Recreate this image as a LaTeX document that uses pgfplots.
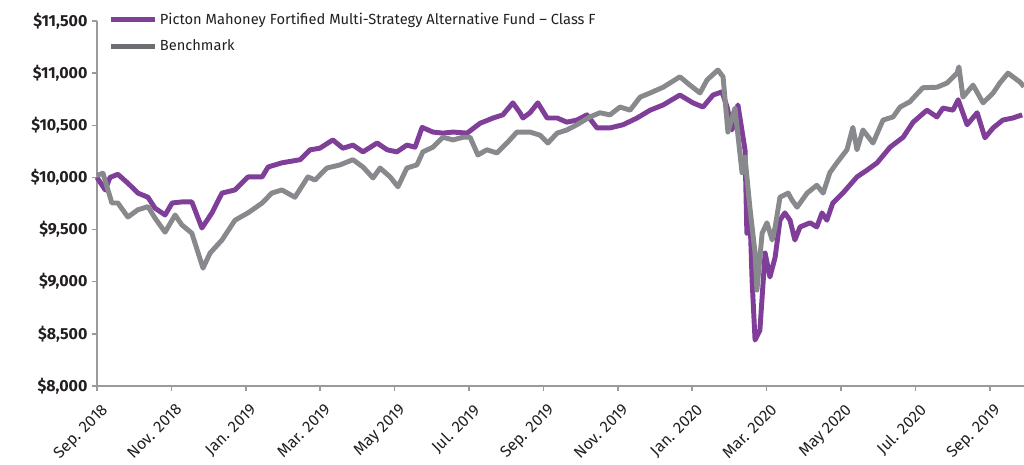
\documentclass[border=0pt]{standalone}
\usepackage{pgfplots}
\pgfplotsset{compat=1.18}
\usepackage{fontspec}
\setmainfont{Fira Sans}
\definecolor{fundpurple}{HTML}{7F3F98}
\definecolor{benchgrey}{HTML}{88898C}
\definecolor{legendgrey}{HTML}{6D6E71}
\definecolor{axisgrey}{HTML}{9A9A9A}
\definecolor{txt}{HTML}{231F20}
\begin{document}
\begin{tikzpicture}
\useasboundingbox (0pt,0pt) rectangle (768pt,348pt);
\begin{axis}[
  at={(72.75pt,58.5pt)}, anchor=south west,
  scale only axis, width=695.25pt, height=273.75pt,
  xmin=0, xmax=24.92, ymin=8000, ymax=11500,
  axis x line=bottom, axis y line=left,
  axis line style={-, axisgrey, line width=1.1pt},
  scaled x ticks=false, scaled y ticks=false,
  xtick={0,2,4,6,8,10,12,14,16,18,20,22,24},
  xticklabels={Sep. 2018,Nov. 2018,Jan. 2019,Mar. 2019,May 2019,Jul. 2019,Sep. 2019,Nov. 2019,Jan. 2020,Mar. 2020,May 2020,Jul. 2020,Sep. 2019},
  ytick={8000,8500,9000,9500,10000,10500,11000,11500},
  yticklabels={{\$8,000},{\$8,500},{\$9,000},{\$9,500},{\$10,000},{\$10,500},{\$11,000},{\$11,500}},
  tick style={axisgrey, line width=1.1pt},
  major tick length=4pt,
  xtick align=outside, ytick align=outside,
  x tick label style={xshift=2.5pt, yshift=-7pt, rotate=45, anchor=north east, font=\fontsize{12}{13}\selectfont, text=txt, inner sep=1pt},
  y tick label style={font=\fontsize{12}{13}\selectfont\bfseries, text=txt, inner sep=3pt},
  legend style={at={(0.012,1.03)}, anchor=north west, draw=none, fill=none,
    font=\fontsize{11}{12}\selectfont, text=txt, row sep=6pt, inner sep=0pt},
  legend cell align=left,
  legend image code/.code={\draw[#1, line width=3.6pt] (0pt,0pt) -- (33pt,0pt);},
  clip=false,
]
\addplot[fundpurple, line width=3.7pt, line join=round] coordinates {
(0.00,10000)(0.22,9880)(0.35,10000)(0.56,10030)(0.83,9945)(1.10,9850)(1.37,9810)(1.56,9705)
(1.83,9640)(2.02,9755)(2.28,9765)(2.55,9765)(2.82,9515)(3.09,9660)(3.36,9850)(3.71,9880)
(4.06,10005)(4.44,10005)(4.60,10100)(4.97,10140)(5.46,10170)(5.73,10265)(5.99,10280)(6.34,10360)
(6.61,10280)(6.88,10310)(7.15,10245)(7.53,10330)(7.80,10265)(8.06,10245)(8.33,10310)(8.55,10290)
(8.74,10480)(9.03,10435)(9.30,10425)(9.57,10435)(9.95,10425)(10.30,10520)(10.65,10570)(10.91,10600)
(11.18,10715)(11.37,10620)(11.45,10570)(11.64,10620)(11.85,10715)(12.10,10570)(12.37,10570)(12.63,10530)
(12.90,10550)(13.17,10600)(13.44,10475)(13.79,10475)(14.14,10505)(14.52,10570)(14.87,10645)(15.22,10695)
(15.67,10790)(16.02,10715)(16.29,10675)(16.56,10790)(16.80,10820)(16.94,10675)(17.07,10455)(17.23,10695)
(17.42,10265)(17.47,9465)(17.55,9670)(17.61,9015)(17.69,8440)(17.82,8535)(17.96,9275)(18.09,9045)
(18.23,9235)(18.36,9590)(18.49,9660)(18.63,9590)(18.76,9400)(18.90,9525)(19.17,9565)(19.35,9525)
(19.49,9660)(19.62,9590)(19.78,9755)(20.05,9850)(20.43,10005)(20.70,10070)(20.97,10140)(21.32,10290)
(21.67,10385)(21.94,10530)(22.31,10645)(22.58,10580)(22.74,10665)(23.01,10645)(23.15,10745)(23.39,10505)
(23.66,10620)(23.87,10380)(24.09,10475)(24.35,10550)(24.62,10570)(24.87,10600)
};
\addlegendentry{Picton Mahoney Fortified Multi-Strategy Alternative Fund – Class F}
\addplot[benchgrey, line width=3.7pt, line join=round, forget plot] coordinates {
(0.00,10020)(0.16,10040)(0.40,9755)(0.56,9755)(0.83,9620)(1.10,9690)(1.37,9720)(1.56,9610)
(1.83,9475)(2.10,9640)(2.28,9545)(2.55,9465)(2.85,9130)(3.04,9275)(3.36,9400)(3.71,9590)
(4.06,9660)(4.44,9755)(4.70,9850)(4.97,9880)(5.32,9810)(5.67,10005)(5.86,9975)(6.18,10090)
(6.53,10120)(6.88,10170)(7.15,10100)(7.42,9995)(7.61,10090)(7.88,10005)(8.09,9910)(8.33,10090)
(8.60,10120)(8.76,10245)(9.03,10290)(9.30,10385)(9.57,10360)(9.84,10385)(10.03,10385)(10.24,10215)
(10.48,10265)(10.75,10235)(11.02,10330)(11.29,10435)(11.64,10435)(11.91,10405)(12.12,10330)(12.37,10425)
(12.63,10455)(12.90,10505)(13.25,10580)(13.52,10620)(13.79,10600)(14.06,10675)(14.33,10645)(14.60,10770)
(14.87,10810)(15.22,10865)(15.67,10965)(15.94,10885)(16.21,10810)(16.40,10935)(16.69,11030)(16.83,10965)
(16.96,10435)(17.15,10665)(17.34,10045)(17.42,10195)(17.55,9715)(17.69,9275)(17.74,8920)(17.88,9465)
(18.01,9565)(18.15,9400)(18.23,9525)(18.36,9810)(18.58,9850)(18.68,9785)(18.82,9715)(19.09,9850)
(19.35,9925)(19.52,9850)(19.70,10045)(19.89,10140)(20.16,10265)(20.32,10480)(20.43,10265)(20.59,10455)
(20.86,10330)(21.13,10550)(21.40,10580)(21.59,10675)(21.85,10725)(22.20,10860)(22.58,10865)(22.85,10905)
(23.12,11000)(23.17,11060)(23.28,10770)(23.55,10885)(23.82,10715)(24.09,10810)(24.27,10905)(24.49,11000)
(24.81,10915)(24.92,10870)
};
\addlegendimage{legendgrey, line width=3.6pt}
\addlegendentry{Benchmark}
\end{axis}
\end{tikzpicture}
\end{document}
